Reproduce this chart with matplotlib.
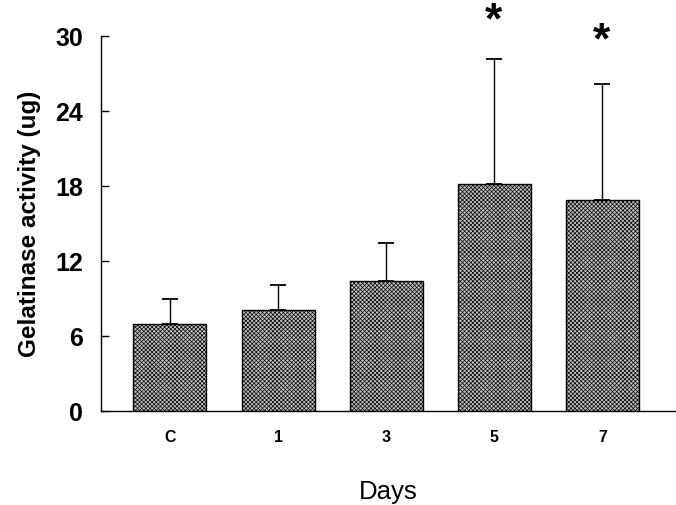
import matplotlib
matplotlib.use("Agg")
import matplotlib.pyplot as plt

categories = ["C", "1", "3", "5", "7"]
means = [7.0, 8.1, 10.4, 18.2, 16.9]
errors = [2.0, 1.95, 3.05, 9.95, 9.3]
significant = [False, False, False, True, True]
yticks = [0, 6, 12, 18, 24, 30]

plt.rcParams['font.family'] = ['Liberation Sans', 'DejaVu Sans']
plt.rcParams['hatch.linewidth'] = 0.5
plt.rcParams['hatch.color'] = '#707070'

fig = plt.figure(figsize=(6.76, 5.05), dpi=100)
ax = fig.add_axes([0.1494, 0.1861, 0.8506, 0.7426])

x = list(range(len(categories)))
ax.bar(x, means, width=0.675, color='#c4c4c4', edgecolor='black',
       linewidth=1.0, hatch='xxxxxxxx', zorder=2)
ax.errorbar(x, means, yerr=[[0]*len(errors), errors], fmt='none',
            ecolor='black', elinewidth=1.0, capsize=5.5, capthick=1.3, zorder=3)
for xi, m, e, s in zip(x, means, errors, significant):
    if s:
        ax.text(xi - 0.01, 31.1 if m > 17.5 else 29.5, '*', ha='center', va='center',
                fontsize=32, fontweight='bold', clip_on=False)

ax.set_xlim(-0.638, 4.68)
ax.set_ylim(0, 30)
ax.set_yticks(yticks)
ax.set_yticklabels([str(t) for t in yticks], fontsize=18, fontweight='bold')
ax.set_xticks(x)
ax.set_xticklabels(categories, fontsize=11.5, fontweight='bold')
ax.tick_params(axis='y', direction='in', length=6, width=1.0, pad=13)
ax.tick_params(axis='x', length=0, pad=14)
for sp in ['top', 'right']:
    ax.spines[sp].set_visible(False)
ax.spines['left'].set_linewidth(1.0)
ax.spines['bottom'].set_linewidth(1.0)

ax.set_ylabel('Gelatinase activity (ug)', fontsize=17.5, fontweight='bold', labelpad=10)
ax.set_xlabel('Days', fontsize=18.5, labelpad=25)

fig.savefig('out.png', dpi=100)
